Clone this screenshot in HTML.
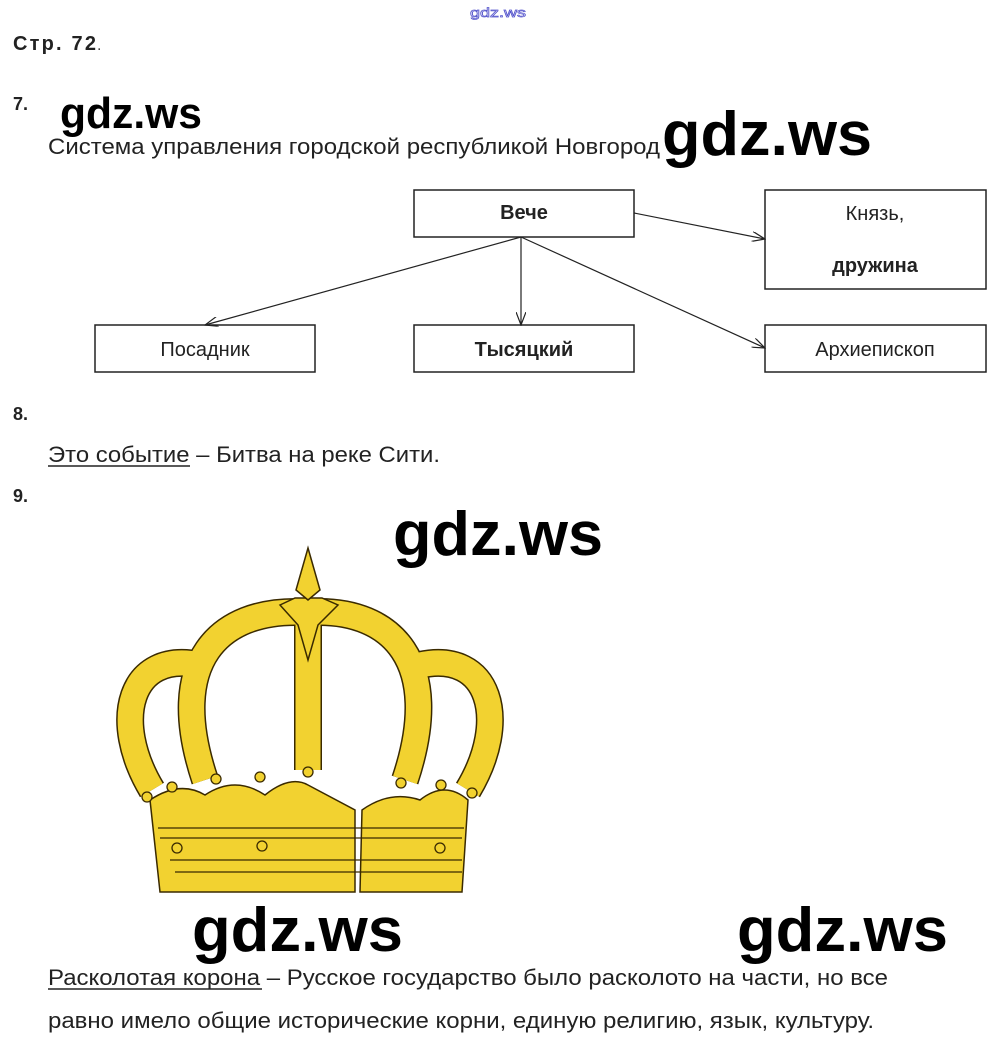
<!DOCTYPE html>
<html><head><meta charset="utf-8"><style>
html,body{margin:0;padding:0;background:#fff;}
svg{display:block}
text{font-family:"Liberation Sans",sans-serif;}
</style></head><body>
<svg width="997" height="1048" viewBox="0 0 997 1048" xmlns="http://www.w3.org/2000/svg">
<defs><marker id="a" markerWidth="14" markerHeight="10" refX="13" refY="5" orient="auto" markerUnits="userSpaceOnUse"><path d="M0,0 L13,5 L0,10" fill="none" stroke="#222" stroke-width="1.2"/></marker></defs>
<text x="470" y="17" font-size="13" fill="#fff" stroke="#55c" stroke-width="0.7" textLength="56" lengthAdjust="spacingAndGlyphs">gdz.ws</text>
<text x="13" y="50" font-size="20" font-weight="bold" fill="#222" textLength="83" lengthAdjust="spacing">Стр. 72</text><text x="97" y="50" font-size="16" fill="#444">.</text>
<text x="13" y="110" font-size="18" font-weight="bold" fill="#222">7.</text>
<text x="60" y="128" font-size="44" font-weight="bold" fill="#000" textLength="142" lengthAdjust="spacingAndGlyphs">gdz.ws</text>
<text x="48" y="154" font-size="22" fill="#222" textLength="612" lengthAdjust="spacingAndGlyphs">Система управления городской республикой Новгород</text>
<text x="662" y="155" font-size="62" font-weight="bold" fill="#000" textLength="210" lengthAdjust="spacingAndGlyphs">gdz.ws</text>
<g fill="#fff" stroke="#222" stroke-width="1.5">
<rect x="414" y="190" width="220" height="47"/>
<rect x="765" y="190" width="221" height="99"/>
<rect x="95" y="325" width="220" height="47"/>
<rect x="414" y="325" width="220" height="47"/>
<rect x="765" y="325" width="221" height="47"/>
</g>
<g stroke="#222" stroke-width="1.2" fill="none" marker-end="url(#a)">
<line x1="634" y1="213" x2="765" y2="239"/>
<line x1="521" y1="237" x2="205" y2="325"/>
<line x1="521" y1="237" x2="521" y2="325"/>
<line x1="521" y1="237" x2="765" y2="348"/>
</g>
<g font-size="20" fill="#222" text-anchor="middle">
<text x="524" y="219" font-weight="bold">Вече</text>
<text x="875" y="220">Князь,</text>
<text x="875" y="272" font-weight="bold">дружина</text>
<text x="205" y="356">Посадник</text>
<text x="524" y="356" font-weight="bold">Тысяцкий</text>
<text x="875" y="356">Архиепископ</text>
</g>
<text x="13" y="420" font-size="18" font-weight="bold" fill="#222">8.</text>
<text x="48" y="462" font-size="22" fill="#222" textLength="392" lengthAdjust="spacingAndGlyphs">Это событие – Битва на реке Сити.</text>
<line x1="48" y1="466" x2="190" y2="466" stroke="#222" stroke-width="1.5"/>
<text x="13" y="502" font-size="18" font-weight="bold" fill="#222">9.</text>
<text x="393" y="555" font-size="62" font-weight="bold" fill="#000" textLength="210" lengthAdjust="spacingAndGlyphs">gdz.ws</text>
<!-- crown -->
<g stroke-linecap="butt" fill="none">
<g stroke="#3a2a00" stroke-width="28">
<path d="M152,790 C110,720 130,650 200,665"/>
<path d="M468,790 C510,720 490,650 420,665"/>
<path d="M205,780 C165,660 220,610 300,612"/>
<path d="M405,780 C445,660 390,610 315,612"/>
<path d="M308,615 L308,770"/>
</g>
<g stroke="#f2d230" stroke-width="25">
<path d="M152,790 C110,720 130,650 200,665"/>
<path d="M468,790 C510,720 490,650 420,665"/>
<path d="M205,780 C165,660 220,610 300,612"/>
<path d="M405,780 C445,660 390,610 315,612"/>
<path d="M308,615 L308,770"/>
</g>
</g>
<path d="M280,605 L295,598 L322,598 L338,605 L318,625 L308,660 L298,625 Z" fill="#f2d230" stroke="#3a2a00" stroke-width="1.5"/>
<path d="M308,548 L320,590 L308,600 L296,590 Z" fill="#f2d230" stroke="#3a2a00" stroke-width="1.5"/>
<path d="M150,800 Q180,780 205,795 Q235,775 265,795 Q290,775 308,785 L355,810 L355,892 L160,892 Z" fill="#f2d230" stroke="#3a2a00" stroke-width="1.5"/>
<path d="M362,810 Q390,790 420,800 Q445,780 468,800 L462,892 L360,892 Z" fill="#f2d230" stroke="#3a2a00" stroke-width="1.5"/>
<g stroke="#3a2a00" stroke-width="1.3">
<line x1="158" y1="828" x2="464" y2="828"/><line x1="160" y1="838" x2="462" y2="838"/>
<line x1="170" y1="860" x2="462" y2="860"/><line x1="175" y1="872" x2="462" y2="872"/>
</g>
<g fill="#f2d230" stroke="#3a2a00" stroke-width="1.3">
<circle cx="147" cy="797" r="5"/><circle cx="172" cy="787" r="5"/><circle cx="216" cy="779" r="5"/><circle cx="260" cy="777" r="5"/><circle cx="308" cy="772" r="5"/><circle cx="401" cy="783" r="5"/><circle cx="441" cy="785" r="5"/><circle cx="472" cy="793" r="5"/><circle cx="177" cy="848" r="5"/><circle cx="262" cy="846" r="5"/><circle cx="440" cy="848" r="5"/>
</g>
<text x="192" y="951" font-size="62" font-weight="bold" fill="#000" textLength="211" lengthAdjust="spacingAndGlyphs">gdz.ws</text>
<text x="737" y="951" font-size="62" font-weight="bold" fill="#000" textLength="211" lengthAdjust="spacingAndGlyphs">gdz.ws</text>
<text x="48" y="985" font-size="22" fill="#222" textLength="840" lengthAdjust="spacingAndGlyphs">Расколотая корона – Русское государство было расколото на части, но все</text>
<line x1="48" y1="989" x2="262" y2="989" stroke="#222" stroke-width="1.5"/>
<text x="48" y="1028" font-size="22" fill="#222" textLength="826" lengthAdjust="spacingAndGlyphs">равно имело общие исторические корни, единую религию, язык, культуру.</text>
</svg>
</body></html>
